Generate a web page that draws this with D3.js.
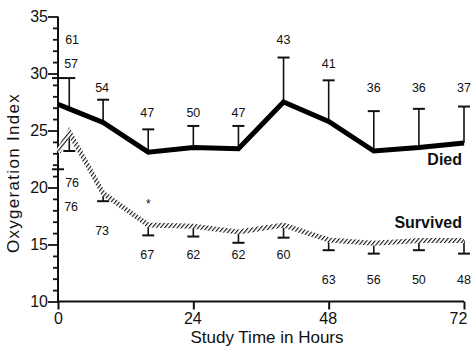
<!DOCTYPE html>
<html>
<head>
<meta charset="utf-8">
<script src="https://d3js.org/d3.v7.min.js"></script>
<style>
  body { margin: 0; background: #fff; }
  svg text { font-family: "Liberation Sans", Arial, sans-serif; fill: #111; }
</style>
</head>
<body>
<div id="chart"></div>
<script>
//////////////////////////////////////////////////////////////////////////////
// Data

var hours = [0, 2, 8, 16, 24, 32, 40, 48, 56, 64, 72];

var diedMean  = [27.3, 26.9, 25.7, 23.1, 23.5, 23.4, 27.5, 25.8, 23.2, 23.5, 23.9];
var diedUpper = [29.6, 29.6, 27.7, 25.1, 25.4, 25.4, 31.4, 29.4, 26.7, 26.9, 27.1];
var diedN     = [61, 57, 54, 47, 50, 47, 43, 41, 36, 36, 37];
// label rows (in index units) used in the figure
var diedLabelAt = [33.0, 30.9, 28.8, 26.6, 26.6, 26.6, 33.0, 30.9, 28.8, 28.8, 28.8];

var survMean  = [23.1, 24.85, 19.5, 16.7, 16.6, 16.1, 16.7, 15.4, 15.1, 15.35, 15.35];
var survLower = [21.6, 23.2, 18.8, 15.8, 15.7, 15.15, 15.6, 14.5, 14.2, 14.5, 14.2];
var survN     = [76, 76, 73, 67, 62, 62, 60, 63, 56, 50, 48];
var survLabelAt = [20.4, 18.3, 16.2, 14.1, 14.1, 14.1, 14.1, 11.9, 11.9, 11.9, 11.9];

var xTicks = [0, 24, 48, 72];
var yTicks = [10, 15, 20, 25, 30, 35];

//////////////////////////////////////////////////////////////////////////////

var width = 471, height = 352;

var xScale = d3.scaleLinear().domain([0, 72]).range([58, 464]);
var yScale = d3.scaleLinear().domain([10, 35]).range([301.5, 16.5]);

var svg = d3.select("#chart")
    .append("svg")
    .attr("width", width)
    .attr("height", height);

// hatch pattern for the "survived" line
var pat = svg.append("defs")
    .append("pattern")
    .attr("id", "hatch")
    .attr("patternUnits", "userSpaceOnUse")
    .attr("width", 3.2)
    .attr("height", 3.2)
    .attr("patternTransform", "rotate(40)");
pat.append("rect").attr("width", 3.2).attr("height", 3.2).attr("fill", "#fff");
pat.append("rect").attr("width", 1.1).attr("height", 3.2).attr("fill", "#111");

var died = hours.map(function(h, i) {
    return {t: h, m: diedMean[i], e: diedUpper[i], n: diedN[i], ly: diedLabelAt[i]};
});
var surv = hours.map(function(h, i) {
    return {t: h, m: survMean[i], e: survLower[i], n: survN[i], ly: survLabelAt[i]};
});

// axes
var yAxis = d3.axisLeft(yScale)
    .tickValues(d3.range(10, 36, 1))
    .tickSize(5)
    .tickPadding(1)
    .tickFormat(function(d) { return yTicks.indexOf(d) >= 0 ? d : ""; });

var gy = svg.append("g")
    .attr("transform", "translate(" + xScale(0) + ",0)")
    .call(yAxis);
gy.select(".domain").attr("stroke", "#111").attr("stroke-width", 2).attr("d", "M0," + yScale(35) + "V" + yScale(10));
gy.selectAll(".tick line").attr("stroke", "#111").attr("stroke-width", 1.8)
    .attr("x2", function(d) { return yTicks.indexOf(d) >= 0 ? -10 : -5; });
gy.selectAll(".tick text")
    .attr("x", -10)
    .style("font-size", "16px")
    .attr("fill", "#111");

var xAxis = d3.axisBottom(xScale)
    .tickValues(xTicks)
    .tickSize(8)
    .tickPadding(3);

var gx = svg.append("g")
    .attr("transform", "translate(0," + yScale(10) + ")")
    .call(xAxis);
gx.select(".domain").attr("stroke", "#111").attr("stroke-width", 2).attr("d", "M" + xScale(0) + ",0H" + xScale(72));
gx.selectAll(".tick line").attr("stroke", "#111").attr("stroke-width", 2);
gx.selectAll(".tick text").style("font-size", "16px").attr("fill", "#111")
    .attr("x", function(d) { return d === 72 ? -6 : (d === 0 ? 0 : -1); });

// axis titles
svg.append("text")
    .attr("x", 267)
    .attr("y", 343)
    .attr("text-anchor", "middle")
    .style("font-size", "17px")
    .text("Study Time in Hours");

svg.append("text")
    .attr("transform", "translate(19,173) rotate(-90)")
    .attr("text-anchor", "middle")
    .style("font-size", "17px")
    .style("letter-spacing", "1.3px")
    .text("Oxygeration Index");

// error bars
function errorBars(data, w) {
    var g = svg.append("g").attr("stroke", "#111");
    g.selectAll("line.v")
        .data(data)
        .enter()
        .append("line")
        .attr("x1", function(d) { return xScale(d.t); })
        .attr("x2", function(d) { return xScale(d.t); })
        .attr("y1", function(d) { return yScale(d.m); })
        .attr("y2", function(d) { return yScale(d.e); })
        .attr("stroke-width", 1.6);
    g.selectAll("line.c")
        .data(data)
        .enter()
        .append("line")
        .attr("x1", function(d) { return xScale(d.t) - w / 2; })
        .attr("x2", function(d) { return xScale(d.t) + w / 2; })
        .attr("y1", function(d) { return yScale(d.e); })
        .attr("y2", function(d) { return yScale(d.e); })
        .attr("stroke-width", 2);
}
errorBars(died, 12);
errorBars(surv, 12);

var line = d3.line()
    .x(function(d) { return xScale(d.t); })
    .y(function(d) { return yScale(d.m); });

svg.append("path")
    .datum(surv)
    .attr("d", line)
    .attr("fill", "none")
    .attr("stroke", "url(#hatch)")
    .attr("stroke-width", 5);

svg.append("path")
    .datum(died)
    .attr("d", line)
    .attr("fill", "none")
    .attr("stroke", "#000")
    .attr("stroke-width", 5)
    .attr("stroke-linejoin", "miter");

// patient counts
function counts(data) {
    svg.append("g")
        .selectAll("text")
        .data(data)
        .enter()
        .append("text")
        .attr("x", function(d) { return xScale(Math.max(d.t, 2.5)) + (d.t > 0 && d.t < 24 ? -1 : 0); })
        .attr("y", function(d) { return yScale(d.ly); })
        .attr("dy", "0.35em")
        .attr("text-anchor", "middle")
        .style("font-size", "12.5px")
        .text(function(d) { return d.n; });
}
counts(died);
counts(surv);

// series labels and significance mark
svg.append("text")
    .attr("x", 462).attr("y", 165)
    .attr("text-anchor", "end")
    .style("font-size", "16px").style("font-weight", "bold")
    .text("Died");

svg.append("text")
    .attr("x", 462).attr("y", 228)
    .attr("text-anchor", "end")
    .style("font-size", "16px").style("font-weight", "bold")
    .text("Survived");

svg.append("text")
    .attr("x", xScale(16)).attr("y", yScale(18.2))
    .attr("text-anchor", "middle")
    .style("font-size", "12px")
    .text("*");
</script>
</body>
</html>
